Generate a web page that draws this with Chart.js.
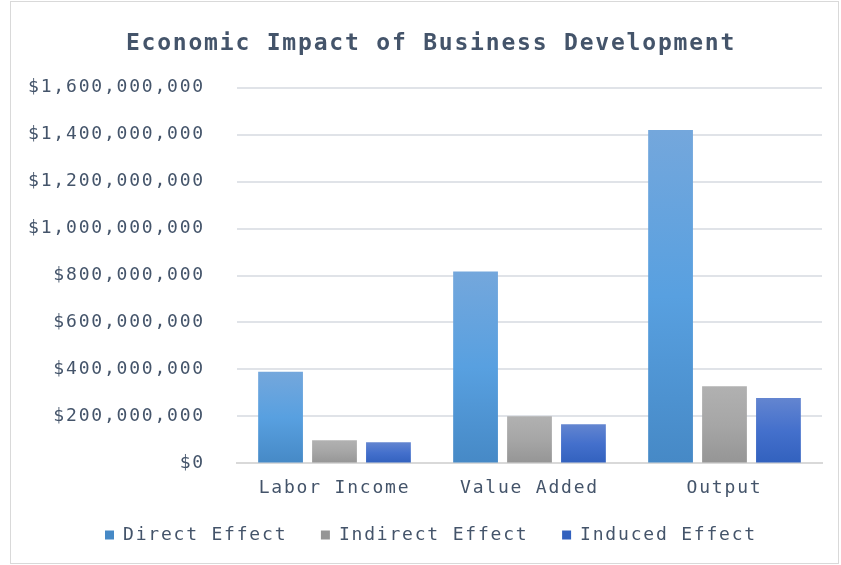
<!DOCTYPE html>
<html>
<head>
<meta charset="utf-8">
<script src="https://cdn.jsdelivr.net/npm/chart.js@4"></script>
<style>
  body { margin: 0; background: #fff; }
  #wrap { position: relative; width: 841px; height: 565px; }
  #frame { position: absolute; left: 10px; top: 1px; width: 827px; height: 561px; border: 1px solid #D9D9D9; pointer-events: none; }
</style>
</head>
<body>
<div id="wrap">
  <canvas id="impactChart" width="841" height="565"></canvas>
  <div id="frame"></div>
</div>
<script>
const categories = ['Labor Income', 'Value Added', 'Output'];
const directEffect = [390000000, 817000000, 1420000000];
const indirectEffect = [99000000, 201000000, 329000000];
const inducedEffect = [90000000, 167000000, 278000000];
const yTicks = [0, 200000000, 400000000, 600000000, 800000000, 1000000000, 1200000000, 1400000000, 1600000000];

const textColor = '#44546A';
const fontFamily = '"DejaVu Sans Mono", monospace';

// per-bar vertical gradient, from the bar top down to zero
function barGradient(stops, flat) {
  return (context) => {
    const chart = context.chart;
    if (!chart.chartArea || context.raw === undefined) return flat;
    const y = chart.scales.y;
    const top = y.getPixelForValue(context.raw);
    const bottom = y.getPixelForValue(0);
    const g = chart.ctx.createLinearGradient(0, top, 0, bottom);
    stops.forEach((c, i) => g.addColorStop(i / (stops.length - 1), c));
    return g;
  };
}

const spacing = {
  id: 'spacing',
  beforeLayout(chart) { chart.ctx.letterSpacing = '1.8px'; },
  // y labels hang past the left of the layout box; widen the label clip so they show
  afterLayout(chart) { chart.scales.y.left = 0; },
  beforeDraw(chart) { chart.ctx.letterSpacing = '1.8px'; }
};

const ctx = document.getElementById('impactChart').getContext('2d');
const impactChart = new Chart(ctx, {
  type: 'bar',
  data: {
    labels: categories,
    datasets: [
      {
        label: 'Direct Effect',
        data: directEffect,
        backgroundColor: barGradient(['#74A7DC', '#58A0E0', '#4689C6'], '#5B9BD5')
      },
      {
        label: 'Indirect Effect',
        data: indirectEffect,
        backgroundColor: barGradient(['#B1B1B1', '#A6A6A6', '#959595'], '#A5A5A5')
      },
      {
        label: 'Induced Effect',
        data: inducedEffect,
        backgroundColor: barGradient(['#6385D0', '#4470CC', '#3261BE'], '#4472C4')
      }
    ]
  },
  options: {
    responsive: false,
    animation: false,
    devicePixelRatio: 1,
    categoryPercentage: 0.83,
    barPercentage: 0.83,
    layout: { padding: { left: 40, right: 19, top: 10, bottom: 11 } },
    scales: {
      x: {
        grid: { display: false },
        border: { color: '#D9D9D9', width: 2 },
        ticks: { color: textColor, font: { family: fontFamily, size: 18 }, padding: 6 }
      },
      y: {
        min: 0,
        max: 1600000000,
        afterBuildTicks: (axis) => { axis.ticks = yTicks.map(v => ({ value: v })); },
        afterFit: (axis) => { axis.width = 197; },
        grid: { color: '#E0E3E8', lineWidth: 2, drawTicks: false },
        border: { display: false },
        ticks: {
          color: textColor,
          font: { family: fontFamily, size: 18 },
          padding: 32,
          callback: (v) => '$' + v.toLocaleString('en-US')
        }
      }
    },
    plugins: {
      title: {
        display: true,
        text: 'Economic Impact of Business Development',
        color: textColor,
        font: { family: fontFamily, size: 23, weight: 'bold' },
        padding: { top: 20, bottom: 30 }
      },
      legend: {
        position: 'bottom',
        labels: {
          color: textColor,
          font: { family: fontFamily, size: 18 },
          boxWidth: 9,
          boxHeight: 9,
          padding: 21,
          generateLabels: (chart) => Chart.defaults.plugins.legend.labels.generateLabels(chart)
            .map((item, i, all) => ({ ...item, text: i < all.length - 1 ? item.text + ' ' : item.text }))
        }
      },
      tooltip: { enabled: false }
    }
  },
  plugins: [spacing]
});
</script>
</body>
</html>
